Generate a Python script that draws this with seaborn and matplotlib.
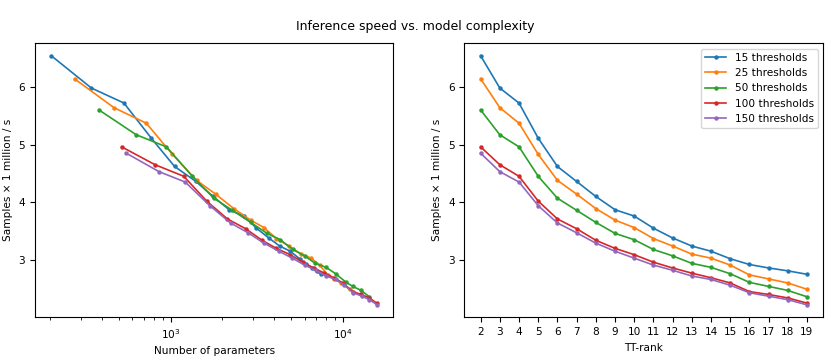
import numpy as np
import pandas as pd
import seaborn as sns
import matplotlib.pyplot as plt

# =====================================================
# DATA
# =====================================================
ranks = list(range(2, 20))
threshold_labels = ["15 thresholds", "25 thresholds", "50 thresholds",
                    "100 thresholds", "150 thresholds"]

# samples x 1 million / s, per TT-rank
speed_15 = [6.54, 5.98, 5.72, 5.11, 4.62, 4.36, 4.10, 3.87, 3.76,
            3.55, 3.38, 3.24, 3.15, 3.02, 2.92, 2.86, 2.81, 2.75]
speed_25 = [6.14, 5.64, 5.37, 4.83, 4.38, 4.14, 3.89, 3.69, 3.56,
            3.37, 3.24, 3.10, 3.03, 2.91, 2.74, 2.67, 2.60, 2.49]
speed_50 = [5.60, 5.17, 4.96, 4.45, 4.07, 3.86, 3.65, 3.46, 3.35,
            3.18, 3.07, 2.94, 2.87, 2.76, 2.61, 2.54, 2.47, 2.36]
speed_100 = [4.96, 4.65, 4.45, 4.02, 3.71, 3.54, 3.34, 3.20, 3.09,
             2.96, 2.86, 2.77, 2.69, 2.60, 2.45, 2.40, 2.34, 2.25]
speed_150 = [4.85, 4.53, 4.35, 3.94, 3.64, 3.47, 3.29, 3.15, 3.03,
             2.91, 2.82, 2.72, 2.66, 2.56, 2.43, 2.37, 2.31, 2.22]

# number of parameters, per TT-rank
params_15 = [203, 347, 536, 773, 1055, 1403, 1766, 2187, 2671,
             3150, 3717, 4298, 4953, 5610, 6150, 6650, 7050, 7450]
params_25 = [277, 469, 723, 1025, 1415, 1828, 2328, 2917, 3484,
             4112, 4864, 5740, 6560, 7330, 8190, 8950, 9790, 10950]
params_50 = [384, 632, 946, 1338, 1782, 2284, 2917, 3630, 4335,
             5130, 5996, 6920, 8010, 9080, 10470, 11430, 12790, 14250]
params_100 = [520, 813, 1192, 1620, 2138, 2730, 3397, 4112, 4953,
              5865, 6765, 7830, 8875, 10000, 11430, 12790, 14290, 15700]
params_150 = [553, 857, 1216, 1690, 2229, 2818, 3484, 4255, 5090,
              5996, 6950, 8010, 9080, 10230, 11530, 12890, 14290, 15810]

speeds = [speed_15, speed_25, speed_50, speed_100, speed_150]
params = [params_15, params_25, params_50, params_100, params_150]

rows = []
for label, sp, pa in zip(threshold_labels, speeds, params):
    for r, s, p in zip(ranks, sp, pa):
        rows.append({"thresholds": label, "rank": r, "speed": s, "params": p})
df = pd.DataFrame(rows)

# =====================================================
# PLOT
# =====================================================
plt.rcParams["font.family"] = ["DejaVu Sans"]
plt.rcParams["font.size"] = 7.6

palette = sns.color_palette("tab10", 5)
line_kws = dict(marker="o", markersize=3.2, markeredgewidth=0, linewidth=1.2)

fig = plt.figure(figsize=(8.3, 3.57), dpi=100)
ax1 = fig.add_axes([0.0422, 0.1112, 0.4317, 0.7675])
ax2 = fig.add_axes([0.5594, 0.1112, 0.4325, 0.7675])

sns.lineplot(data=df, x="params", y="speed", hue="thresholds",
             hue_order=threshold_labels, palette=palette, ax=ax1,
             legend=False, **line_kws)
ax1.set_xscale("log")
ax1.set_xlabel("Number of parameters")
ax1.set_ylabel("Samples × 1 million / s")
ax1.set_yticks([3, 4, 5, 6])

sns.lineplot(data=df, x="rank", y="speed", hue="thresholds",
             hue_order=threshold_labels, palette=palette, ax=ax2, **line_kws)
ax2.set_xticks(ranks)
ax2.set_xlabel("TT-rank")
ax2.set_ylabel("Samples × 1 million / s")
ax2.set_yticks([3, 4, 5, 6])
sns.move_legend(ax2, "upper right", title=None, fontsize=7.6)

for ax in (ax1, ax2):
    ax.tick_params(labelsize=7.6)

fig.suptitle("Inference speed vs. model complexity", fontsize=9, y=0.945)

fig.savefig("out.png", dpi=100)
plt.close()
